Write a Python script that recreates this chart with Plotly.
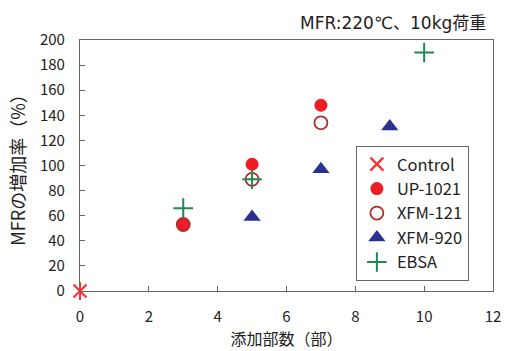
import plotly.graph_objects as go

ctrl_x = [0]
ctrl_y = [0]
up_x = [3, 5, 7]
up_y = [53, 101, 148]
xfm121_x = [3, 5, 7]
xfm121_y = [53, 89, 134]
xfm920_x = [5, 7, 9]
xfm920_y = [59, 97, 131]
ebsa_x = [3, 5, 10]
ebsa_y = [66, 89, 190]

FONT = "Noto Sans CJK JP"
MIX = "DejaVu Sans, Noto Sans CJK JP"
RED_C = "#ff3030"

fig = go.Figure()
fig.add_trace(go.Scatter(x=ctrl_x, y=ctrl_y, mode="markers", name="Control", legendgroup="c",
    marker=dict(symbol="x-thin-open", size=13, color=RED_C, line=dict(color=RED_C, width=2.2)), cliponaxis=False))
fig.add_trace(go.Scatter(x=ctrl_x, y=ctrl_y, mode="markers", name="Control", legendgroup="c", showlegend=False,
    marker=dict(symbol="line-ns-open", size=13, color=RED_C, line=dict(color=RED_C, width=2)), cliponaxis=False))
fig.add_trace(go.Scatter(x=up_x, y=up_y, mode="markers", name="UP-1021", legendgroup="u",
    marker=dict(symbol="circle", size=13, color="#ee1c24", line=dict(width=0))))
fig.add_trace(go.Scatter(x=xfm121_x, y=xfm121_y, mode="markers", name="XFM-121", legendgroup="x1",
    marker=dict(symbol="circle-open", size=13, color="#b02c2a", line=dict(color="#b02c2a", width=1.8))))
fig.add_trace(go.Scatter(x=xfm920_x, y=xfm920_y, mode="markers", name="XFM-920", legendgroup="x9",
    marker=dict(symbol="triangle-up", size=15, color="#2b3190", line=dict(width=0))))
fig.add_trace(go.Scatter(x=ebsa_x, y=ebsa_y, mode="markers", name="EBSA", legendgroup="e",
    marker=dict(symbol="cross-thin-open", size=14, color="#1e8a50", line=dict(color="#1e8a50", width=2))))

axis_common = dict(showgrid=False, zeroline=False, showline=True, linecolor="#666666", linewidth=1.2,
                   mirror=True, ticks="inside", ticklen=5, tickcolor="#666666", automargin=False,
                   tickfont=dict(family=FONT, size=15, color="#222222"))
fig.update_layout(
    width=506, height=351,
    margin=dict(l=80, r=13, t=40, b=60),
    paper_bgcolor="white", plot_bgcolor="white",
    font=dict(family=FONT, color="#222222"),
    xaxis=dict(range=[0, 12], dtick=2, ticklabelstandoff=12,
               title=dict(text="添加部数（部）", font=dict(family=FONT, size=16), standoff=7), **axis_common),
    yaxis=dict(range=[0, 200], dtick=20, ticklabelstandoff=11,
               title=dict(text="MFRの増加率（%）", font=dict(family=FONT, size=18), standoff=9), **axis_common),
    legend=dict(x=0.668, y=0.578, xanchor="left", yanchor="top", bgcolor="white", bordercolor="#666666", borderwidth=1,
                font=dict(family=FONT, size=16.5, color="#222222"), itemwidth=30, tracegroupgap=0),
    annotations=[dict(text="MFR:220℃、10kg荷重", x=1.0, y=1.0, xref="paper", yref="paper",
                      xanchor="right", yanchor="bottom", yshift=5, xshift=-5, showarrow=False,
                      font=dict(family=MIX, size=17, color="#222222"))],
)
fig.write_html("out.html")
